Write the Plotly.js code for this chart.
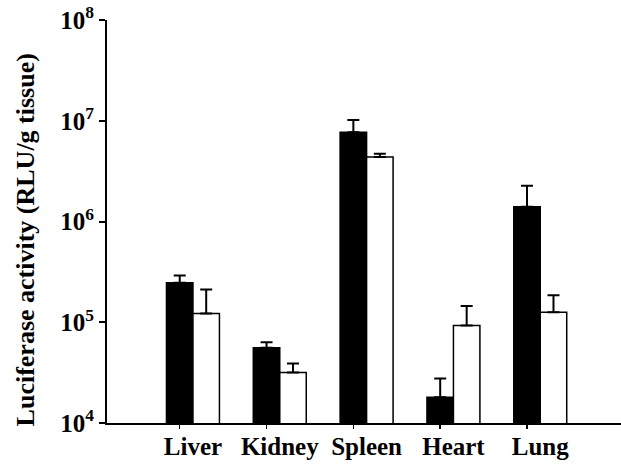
<!DOCTYPE html>
<html>
<head>
<meta charset="utf-8">
<script src="https://cdn.plot.ly/plotly-3.0.1.min.js"></script>
<style>html,body{margin:0;padding:0;background:#fff;}#chart{width:621px;height:464px;}</style>
</head>
<body>
<div id="chart"></div>
<script>
// Data
const categories = ["Liver", "Kidney", "Spleen", "Heart", "Lung"];
const blackValues = [247000, 56000, 7700000, 18000, 1400000];
const blackErrors = [45000, 7500, 2500000, 9700, 870000];
const whiteValues = [122000, 31800, 4370000, 93000, 126000];
const whiteErrors = [90000, 7200, 340000, 52000, 60000];
const yTickExponents = [4, 5, 6, 7, 8];
const yTitle = "Luciferase activity (RLU/g tissue)";

const bargap = 0.39;
const idx = categories.map((c, i) => i);
const serif = "Liberation Serif, Times New Roman, serif";

function errBar(arr) {
  return {type: "data", symmetric: false, array: arr, arrayminus: arr.map(() => 0),
          color: "#000", thickness: 2, width: 6};
}

const traces = [
  {type: "bar", x: idx, y: blackValues, name: "black", error_y: errBar(blackErrors),
   marker: {color: "#000", line: {color: "#000", width: 1.5}}, hoverinfo: "y"},
  {type: "bar", x: idx, y: whiteValues, name: "white", error_y: errBar(whiteErrors),
   marker: {color: "#fff", line: {color: "#000", width: 1.5}}, hoverinfo: "y"}
];

const layout = {
  width: 621, height: 464,
  margin: {l: 107, r: 0, t: 20, b: 40.5},
  paper_bgcolor: "#fff", plot_bgcolor: "#fff",
  showlegend: false,
  barmode: "group", bargap: bargap, bargroupgap: 0,
  font: {family: serif, color: "#000"},
  xaxis: {
    type: "linear", range: [-0.99, 4.93],
    tickmode: "array", tickvals: idx, ticktext: categories,
    ticks: "", showgrid: false, zeroline: false,
    showline: true, linecolor: "#000", linewidth: 2,
    tickfont: {family: serif, size: 25, color: "#000", weight: "bold"},
    minor: {ticks: "outside", ticklen: 4, tickwidth: 1.5, tickcolor: "#000",
            tickmode: "array", tickvals: idx.map(i => i - (1 - bargap) / 4), showgrid: false},
    fixedrange: true
  },
  yaxis: {
    type: "log", range: [4, 8.001], tickmode: "array",
    tickvals: yTickExponents.map(e => Math.pow(10, e)),
    ticktext: yTickExponents.map(e => "10<sup>" + e + "</sup>"),
    showgrid: false, zeroline: false,
    showline: true, linecolor: "#000", linewidth: 2,
    ticks: "outside", ticklen: 6, tickwidth: 2, tickcolor: "#000",
    tickfont: {family: serif, size: 25, color: "#000", weight: "bold"},
    fixedrange: true
  },
  annotations: [{
    text: yTitle, textangle: -90, showarrow: false,
    xref: "paper", yref: "paper", x: -0.158, y: 0.455,
    xanchor: "center", yanchor: "middle",
    font: {family: serif, size: 26, color: "#000", weight: "bold"}
  }]
};

Plotly.newPlot("chart", traces, layout, {displayModeBar: false, staticPlot: true});
</script>
</body>
</html>
